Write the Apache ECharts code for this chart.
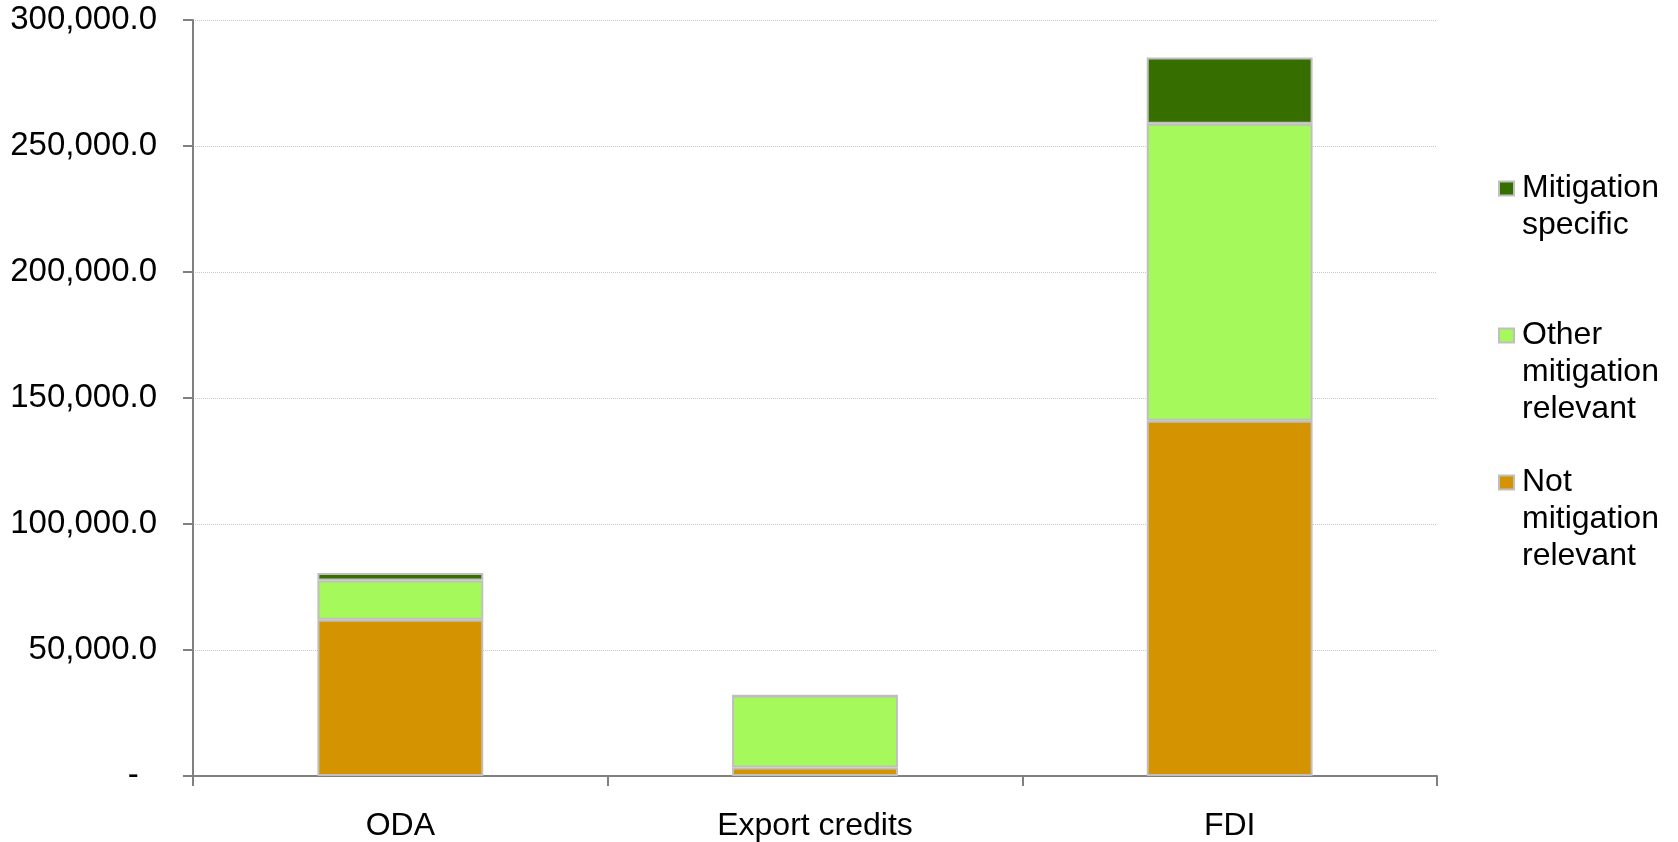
<!DOCTYPE html>
<html>
<head>
<meta charset="utf-8">
<script src="https://cdn.jsdelivr.net/npm/echarts@6/dist/echarts.min.js"></script>
<style>
  html, body { margin: 0; padding: 0; background: #fff; }
  #chart { width: 1678px; height: 842px; }
</style>
</head>
<body>
<div id="chart"></div>
<script>
const categories = ['ODA', 'Export credits', 'FDI'];
const notMitigation = [62000, 3400, 141000];
const otherMitigation = [15600, 28400, 117800];
const mitigationSpecific = [3000, 0, 26300];
const yTicks = [0, 50000, 100000, 150000, 200000, 250000, 300000];

// legend text, blank lines on top keep the icon next to the first line
const legendLines = {
    'Mitigation specific': '\nMitigation\nspecific',
    'Other mitigation relevant': '\n\nOther\nmitigation\nrelevant',
    'Not mitigation relevant': '\n\nNot\nmitigation\nrelevant'
};

const font = "'Liberation Sans', Arial, sans-serif";
const barBorder = { borderColor: '#BFBFBF', borderWidth: 2 };

const chart = echarts.init(document.getElementById('chart'));

function legendAt(name, top) {
    return {
        data: [name],
        orient: 'vertical',
        left: 1498,
        top: top,
        padding: 0,
        itemWidth: 15,
        itemHeight: 14,
        icon: 'rect',
        selectedMode: false,
        formatter: n => legendLines[n],
        textStyle: {
            fontFamily: font,
            fontSize: 32,
            lineHeight: 37,
            color: '#000',
            padding: [0, 0, 0, 3]
        }
    };
}

chart.setOption({
    animation: false,
    grid: { left: 193, right: 241, top: 20, bottom: 65 },
    legend: [
        legendAt('Mitigation specific', 133),
        legendAt('Other mitigation relevant', 243),
        legendAt('Not mitigation relevant', 390)
    ],
    xAxis: {
        type: 'category',
        data: categories,
        axisLine: { lineStyle: { color: '#808080', width: 2 } },
        axisTick: { show: true, length: 10, lineStyle: { color: '#808080', width: 2 } },
        axisLabel: { fontFamily: font, fontSize: 32, color: '#000', margin: 34 }
    },
    yAxis: {
        type: 'value',
        min: yTicks[0],
        max: yTicks[yTicks.length - 1],
        interval: 50000,
        axisLine: { show: true, lineStyle: { color: '#808080', width: 2 } },
        axisTick: { show: true, length: 10, lineStyle: { color: '#808080', width: 2 } },
        splitLine: { lineStyle: { color: '#C8C8C8', type: 'dotted', width: 1 } },
        axisLabel: {
            fontFamily: font, fontSize: 33, color: '#000', margin: 36,
            formatter: v => v === 0 ? '-  ' : v.toLocaleString('en-US', { minimumFractionDigits: 1, maximumFractionDigits: 1 })
        }
    },
    series: [
        { name: 'Not mitigation relevant', type: 'bar', stack: 'total', barWidth: '40%',
          itemStyle: Object.assign({ color: '#D49300' }, barBorder), data: notMitigation },
        { name: 'Other mitigation relevant', type: 'bar', stack: 'total', barWidth: '40%',
          itemStyle: Object.assign({ color: '#A6F95A' }, barBorder), data: otherMitigation },
        { name: 'Mitigation specific', type: 'bar', stack: 'total', barWidth: '40%',
          itemStyle: Object.assign({ color: '#366F00' }, barBorder), data: mitigationSpecific }
    ]
});
</script>
</body>
</html>
